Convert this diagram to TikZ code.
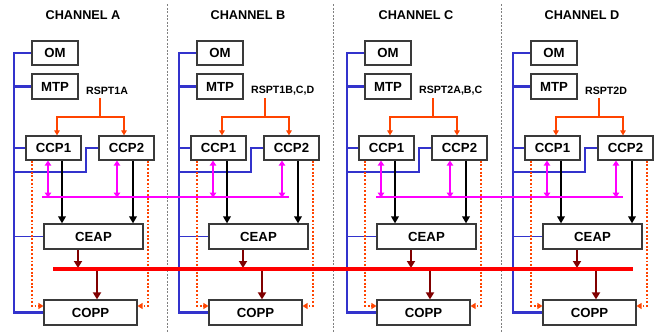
\documentclass[tikz,border=0pt]{standalone}
\usepackage{fontspec}
\setmainfont{Liberation Sans}
\usetikzlibrary{arrows.meta,calc}
\definecolor{bl}{HTML}{3333CC}
\definecolor{mg}{HTML}{FF00FF}
\definecolor{rd}{HTML}{FF0000}
\definecolor{dr}{HTML}{800000}
\definecolor{orr}{HTML}{FF4400}
\definecolor{bx}{HTML}{3A3A3A}
\tikzset{
  box/.style={draw=bx, line width=1.2pt, fill=white, inner sep=0pt, font=\fontsize{13.2}{13}\selectfont\bfseries},
  ttl/.style={inner sep=0pt, font=\fontsize{12.7}{13}\selectfont\bfseries},
  lbl/.style={inner sep=0pt, font=\fontsize{10.6}{11}\selectfont\bfseries},
  bmain/.style={bl, line width=2.4pt},
  bthin/.style={bl, line width=1.7pt},
  rsp/.style={orr, line width=1.1pt},
  rsparr/.style={rsp, -{Triangle[width=5.5pt,length=5pt]}},
  dotl/.style={orr, line width=1.9pt, dash pattern=on 1.9pt off 1.8pt, -{Triangle[width=6pt,length=5pt]}},
  mgarr/.style={mg, line width=2.4pt, {Triangle[width=6.5pt,length=5pt]}-{Triangle[width=6.5pt,length=5pt]}},
  mgbus/.style={mg, line width=2.6pt},
  blk/.style={black, line width=2.4pt, -{Triangle[width=7.5pt,length=7pt]}},
  darr/.style={dr, line width=2.8pt, -{Triangle[width=8pt,length=7pt]}},
  rbus/.style={rd, line width=4.5pt},
  sep/.style={gray, line width=0.9pt, dash pattern=on 2pt off 1.5pt}
}
\begin{document}
\begin{tikzpicture}[x=1pt,y=-1pt]
\useasboundingbox (0,0) rectangle (657,332);
% separators
\foreach \sx/\sn in {167/1,333/2,501/3}{
  \coordinate (st\sn) at (\sx,4);
  \coordinate (sb\sn) at (\sx,332);
  \draw[sep] (st\sn) -- (sb\sn);
}
\foreach \dx/\n/\lab in {0/A/RSPT1A, 165/B/{RSPT1B,C,D}, 333/C/{RSPT2A,B,C}, 499/D/RSPT2D}{
\begin{scope}[xshift=\dx pt]
  \node[ttl] (tt\n) at (83,15) {CHANNEL \n};
  \node[box, minimum width=46pt, minimum height=24pt] (om\n) at (55,53) {OM};
  \node[box, minimum width=46pt, minimum height=25pt] (mtp\n) at (55,86.5) {MTP};
  \node[box, minimum width=55pt, minimum height=24pt] (cpa\n) at (53.5,148) {CCP1};
  \node[box, minimum width=55pt, minimum height=24pt] (cpb\n) at (126.5,148) {CCP2};
  \node[box, minimum width=99pt, minimum height=25pt] (ceap\n) at (93.5,236.5) {CEAP};
  \node[box, minimum width=93pt, minimum height=25pt] (copp\n) at (90.5,312.5) {COPP};
  \node[lbl, anchor=west] (rs\n) at (86,91) {\lab};
  % RSPT distribution
  \coordinate (r\n) at (100,98);
  \coordinate (j\n) at (100,117);
  \draw[rsp] (r\n) -- (j\n);
  \draw[rsparr] (j\n) -| ([xshift=3.5pt]cpa\n.north);
  \draw[rsparr] (j\n) -| ([xshift=-2.5pt]cpb\n.north);
  % blue lines
  \coordinate (bt\n) at (14,53);
  \coordinate (bb\n) at (14,312.5);
  \coordinate (bk\n) at (14,172);
  \draw[bmain] (om\n.west) -- (bt\n) -- (bb\n) -- (copp\n.west);
  \draw[bmain] (mtp\n.west) -- (mtp\n.west -| bt\n);
  \draw[bmain] (cpa\n.west) -- (cpa\n.west -| bt\n);
  \draw[bthin] (ceap\n.west) -- (ceap\n.west -| bt\n);
  \draw[bmain, line width=2pt] (cpb\n.west) -- ++(-12,0) |- (bk\n);
  % dotted orange lines to COPP
  \draw[dotl] ([xshift=-21.5pt]cpa\n.south) |- ([yshift=6.5pt]copp\n.west);
  \draw[dotl] ([xshift=21.5pt]cpb\n.south) |- ([yshift=6.5pt]copp\n.east);
  % magenta double arrows
  \draw[mgarr] ([xshift=-5.5pt]cpa\n.south) -- ++(0,37);
  \draw[mgarr] ([xshift=-9.5pt]cpb\n.south) -- ++(0,37);
  % black arrows
  \draw[blk] ([xshift=8.5pt]cpa\n.south) -- ([xshift=8.5pt]cpa\n.south |- ceap\n.north);
  \draw[blk] ([xshift=6.5pt]cpb\n.south) -- ([xshift=6.5pt]cpb\n.south |- ceap\n.north);
  % dark red arrows
  \coordinate (bi\n) at (78,268);
  \coordinate (bo\n) at (97,269);
  \draw[darr] ([xshift=-15.5pt]ceap\n.south) -- (bi\n);
  \draw[darr] (bo\n) -- (bo\n |- copp\n.north);
\end{scope}
}
% magenta buses
\coordinate (m1l) at (42,197); \coordinate (m1r) at (289,197);
\coordinate (m2l) at (376,197); \coordinate (m2r) at (623,197);
\draw[mgbus] (m1l) -- (m1r);
\draw[mgbus] (m2l) -- (m2r);
% red bus
\coordinate (rbl) at (53,269); \coordinate (rbr) at (633,269);
\draw[rbus] (rbl) -- (rbr);
\end{tikzpicture}
\end{document}
